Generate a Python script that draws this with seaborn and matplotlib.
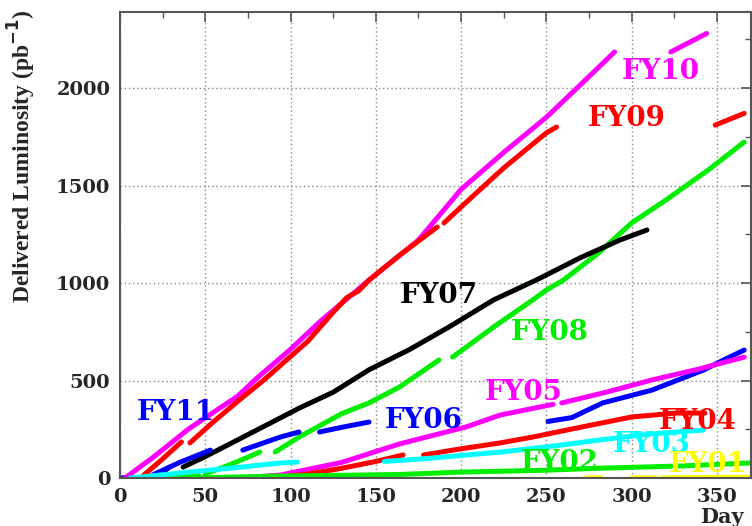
import numpy as np
import pandas as pd
import matplotlib
matplotlib.use("Agg")
import matplotlib.pyplot as plt
from matplotlib.ticker import MultipleLocator
import seaborn as sns

# ---- data: day, delivered luminosity (pb^-1), segment id ----
fy11_day = [0, 4]
fy11_lum = [0, 3]
fy11_seg = [0, 0]

fy10_day = [3, 20, 40, 69, 80, 100, 117, 146, 175, 200, 225, 250, 265, 290, 323, 344]
fy10_lum = [0, 110, 250, 420, 510, 660, 800, 1015, 1220, 1480, 1670, 1850, 1975, 2185, 2185, 2280]
fy10_seg = [0] * 14 + [1] * 2

fy09_day = [12, 24, 36, 41, 55, 70, 84, 110, 125, 133, 140, 146, 165, 186,
            190, 200, 225, 250, 256, 349, 366]
fy09_lum = [0, 90, 185, 180, 290, 400, 500, 700, 850, 925, 960, 1015, 1150, 1287,
            1308, 1390, 1590, 1770, 1800, 1810, 1870]
fy09_seg = [0] * 3 + [1] * 11 + [2] * 5 + [3] * 2

fy08_day = [25, 35, 46, 50, 65, 82, 91, 105, 130, 146, 164, 187,
            195, 220, 242, 250, 260, 280, 300, 320, 345, 366]
fy08_lum = [0, 8, 15, 20, 70, 133, 133, 210, 330, 385, 467, 605,
            620, 780, 913, 964, 1015, 1150, 1308, 1425, 1580, 1723]
fy08_seg = [0] * 3 + [1] * 3 + [2] * 6 + [3] * 10

fy07_day = [20, 25, 29, 37, 50, 70, 90, 105, 125, 146, 170, 193, 219, 244, 270, 293, 309]
fy07_lum = [0, 30, 56, 56, 110, 200, 290, 358, 440, 555, 660, 775, 913, 1015, 1130, 1220, 1272]
fy07_seg = [0] * 3 + [1] * 14

fy06_day = [19, 35, 53, 72, 94, 105, 117, 130, 146, 251, 265, 283, 312, 342, 355, 366]
fy06_lum = [15, 80, 143, 143, 210, 236, 236, 260, 287, 290, 310, 385, 451, 553, 610, 656]
fy06_seg = [0] * 3 + [1] * 3 + [2] * 3 + [3] * 7

fy05_day = [70, 94, 130, 164, 203, 223, 254, 259, 285, 312, 340, 366]
fy05_lum = [0, 15, 80, 175, 262, 323, 378, 385, 440, 503, 560, 620]
fy05_seg = [0] * 7 + [1] * 5

fy04_day = [50, 66, 90, 110, 130, 150, 166, 178, 200, 223, 242, 271, 300, 326, 343]
fy04_lum = [0, 2, 3, 20, 50, 85, 118, 118, 150, 180, 210, 262, 313, 333, 333]
fy04_seg = [0] * 2 + [1] * 5 + [2] * 8

fy03_day = [6, 12, 40, 70, 94, 104, 155, 180, 203, 223, 240, 260, 281, 310, 342]
fy03_lum = [0, 5, 30, 55, 77, 82, 85, 100, 118, 133, 150, 170, 195, 225, 246]
fy03_seg = [0] * 6 + [1] * 9

fy02_day = [40, 94, 164, 199, 250, 281, 330, 369]
fy02_lum = [0, 10, 18, 30, 40, 50, 62, 77]
fy02_seg = [0] * 8

fy01_day = [273, 282, 300, 314, 318, 345, 370]
fy01_lum = [0, 1, 0, 1, 1, 3, 5]
fy01_seg = [0, 0, 1, 1, 2, 2, 2]

years = ["FY11", "FY10", "FY09", "FY08", "FY07", "FY06", "FY05", "FY04", "FY03", "FY02", "FY01"]
colors = ["#0000ff", "#ff00ff", "#ff0000", "#00ee00", "#000000", "#0000ff",
          "#ff00ff", "#ff0000", "#00ffff", "#00ee00", "#ffff00"]

# label positions (day, lum) for the in-plot year labels
label_day = [33, 317, 297, 252, 187, 178, 237, 339, 312, 258, 322]
label_lum = [338, 2087, 1846, 744, 938, 297, 441, 292, 170, 82, 67]

series = {
    "FY11": (fy11_day, fy11_lum, fy11_seg), "FY10": (fy10_day, fy10_lum, fy10_seg),
    "FY09": (fy09_day, fy09_lum, fy09_seg), "FY08": (fy08_day, fy08_lum, fy08_seg),
    "FY07": (fy07_day, fy07_lum, fy07_seg), "FY06": (fy06_day, fy06_lum, fy06_seg),
    "FY05": (fy05_day, fy05_lum, fy05_seg), "FY04": (fy04_day, fy04_lum, fy04_seg),
    "FY03": (fy03_day, fy03_lum, fy03_seg), "FY02": (fy02_day, fy02_lum, fy02_seg),
    "FY01": (fy01_day, fy01_lum, fy01_seg),
}

rows = []
for fy in years:
    d, l, s = series[fy]
    for a, b, c in zip(d, l, s):
        rows.append({"fy": fy, "day": a, "lum": b, "seg": f"{fy}_{c}"})
df = pd.DataFrame(rows)

sns.set_theme(style="white")
plt.rcParams["font.family"] = ["DejaVu Serif"]
plt.rcParams["font.weight"] = "bold"

fig = plt.figure(figsize=(7.52, 5.26), dpi=100)
ax = fig.add_axes([120 / 752, 48 / 526, 631 / 752, 466 / 526])

sns.lineplot(data=df, x="day", y="lum", hue="fy", units="seg", estimator=None,
             palette=dict(zip(years, colors)), legend=False, lw=3.6,
             solid_capstyle="round", sort=False, ax=ax)

for fy, c, xd, yl in zip(years, colors, label_day, label_lum):
    ha = "left" if fy == "FY01" else "center"
    ax.text(xd, yl, fy, color=c, fontsize=20, fontweight="bold", ha=ha, va="center",
            family="DejaVu Serif", clip_on=True)

ax.set_xlim(0, 370)
ax.set_ylim(0, 2390)
ax.xaxis.set_major_locator(MultipleLocator(50))
ax.xaxis.set_minor_locator(MultipleLocator(25))
ax.yaxis.set_major_locator(MultipleLocator(500))
ax.yaxis.set_minor_locator(MultipleLocator(250))
ax.tick_params(which="both", direction="in", top=True, right=True, color="#555555")
ax.tick_params(which="major", length=7, width=1.2, labelsize=14, pad=7)
ax.tick_params(which="minor", length=4, width=1.0)
for lab in ax.get_xticklabels() + ax.get_yticklabels():
    lab.set_fontweight("bold")
ax.grid(True, which="major", linestyle=(0, (1, 2)), color="#888888", lw=1.0)
for sp in ax.spines.values():
    sp.set_color("#555555")
    sp.set_linewidth(1.5)

ax.set_xlabel("")
ax.set_ylabel("Delivered Luminosity (pb$^{\\mathbf{-1}}$)", family="Liberation Serif",
              fontsize=17, fontweight="bold", labelpad=8)
ax.yaxis.set_label_coords(-0.13, 0.69)
fig.text(722 / 752, 1 - 517 / 526, "Day", fontsize=15, fontweight="bold",
         ha="center", va="center", family="DejaVu Serif")

fig.savefig("out.png", dpi=100)
